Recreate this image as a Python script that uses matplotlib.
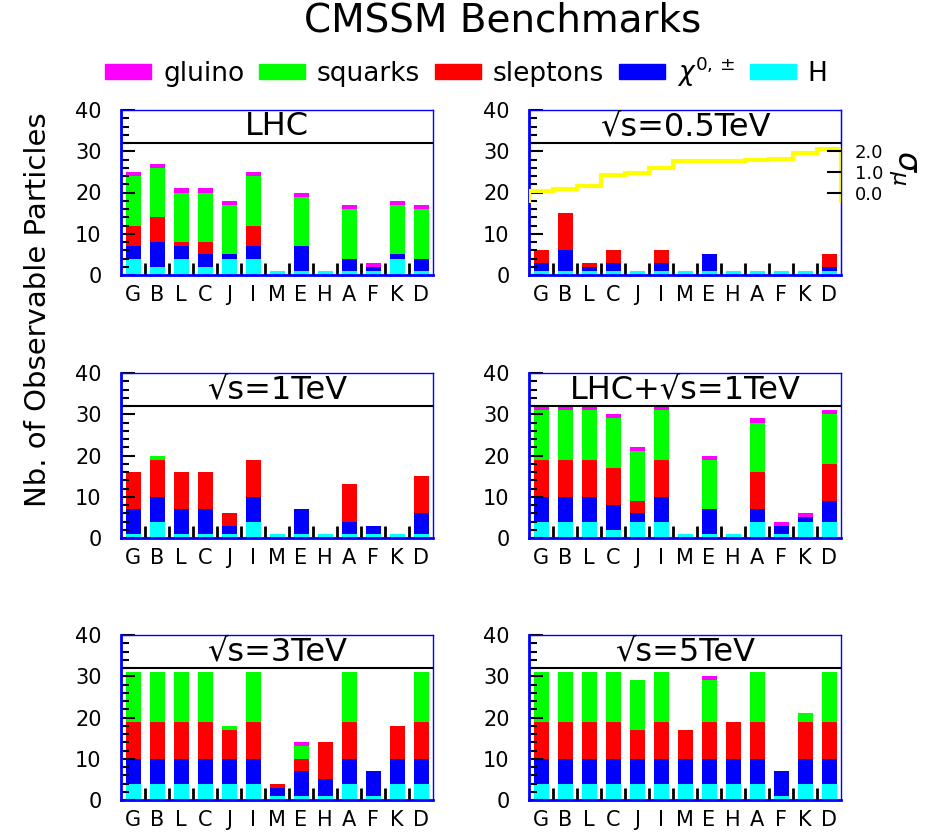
import matplotlib
matplotlib.use("Agg")
import matplotlib.pyplot as plt
import numpy as np
from matplotlib.patches import Patch

plt.rcParams["font.family"] = ["DejaVu Sans"]

cats = ["G", "B", "L", "C", "J", "I", "M", "E", "H", "A", "F", "K", "D"]
layer_names = ["gluino", "squarks", "sleptons", r"$\chi^{0,\pm}$", "H"]
# drawing order bottom -> top: H, chi, sleptons, squarks, gluino
layer_colors = ["#00ffff", "#0000ff", "#ff0000", "#00ff00", "#ff00ff"]

# LHC
lhc_h    = [4, 2, 4, 2, 4, 4, 1, 1, 1, 1, 1, 4, 1]
lhc_chi  = [3, 6, 3, 3, 1, 3, 0, 6, 0, 3, 1, 1, 3]
lhc_slep = [5, 6, 1, 3, 0, 5, 0, 0, 0, 0, 0, 0, 0]
lhc_sq   = [12, 12, 12, 12, 12, 12, 0, 12, 0, 12, 0, 12, 12]
lhc_gl   = [1, 1, 1, 1, 1, 1, 0, 1, 0, 1, 1, 1, 1]

# sqrt(s) = 0.5 TeV
e05_h    = [1, 1, 1, 1, 1, 1, 1, 1, 1, 1, 1, 1, 1]
e05_chi  = [2, 5, 1, 2, 0, 2, 0, 4, 0, 0, 0, 0, 1]
e05_slep = [3, 9, 1, 3, 0, 3, 0, 0, 0, 0, 0, 0, 3]
e05_sq   = [0] * 13
e05_gl   = [0] * 13
# g-2 deviation (right axis)
e05_sigma = [0.08, 0.16, 0.32, 0.84, 0.96, 1.2, 1.52, 1.54, 1.54, 1.58, 1.64, 1.9, 2.1]

# sqrt(s) = 1 TeV
e1_h    = [1, 4, 1, 1, 1, 4, 1, 1, 1, 1, 1, 1, 1]
e1_chi  = [6, 6, 6, 6, 2, 6, 0, 6, 0, 3, 2, 0, 5]
e1_slep = [9, 9, 9, 9, 3, 9, 0, 0, 0, 9, 0, 0, 9]
e1_sq   = [0, 1, 0, 0, 0, 0, 0, 0, 0, 0, 0, 0, 0]
e1_gl   = [0] * 13

# LHC + sqrt(s) = 1 TeV
comb_h    = [4, 4, 4, 2, 4, 4, 1, 1, 1, 4, 1, 4, 4]
comb_chi  = [6, 6, 6, 6, 2, 6, 0, 6, 0, 3, 2, 1, 5]
comb_slep = [9, 9, 9, 9, 3, 9, 0, 0, 0, 9, 0, 0, 9]
comb_sq   = [12, 12, 12, 12, 12, 12, 0, 12, 0, 12, 0, 0, 12]
comb_gl   = [1, 1, 1, 1, 1, 1, 0, 1, 0, 1, 1, 1, 1]

# sqrt(s) = 3 TeV
e3_h    = [4, 4, 4, 4, 4, 4, 1, 1, 1, 4, 1, 4, 4]
e3_chi  = [6, 6, 6, 6, 6, 6, 2, 6, 4, 6, 6, 6, 6]
e3_slep = [9, 9, 9, 9, 7, 9, 1, 3, 9, 9, 0, 8, 9]
e3_sq   = [12, 12, 12, 12, 1, 12, 0, 3, 0, 12, 0, 0, 12]
e3_gl   = [0, 0, 0, 0, 0, 0, 0, 1, 0, 0, 0, 0, 0]

# sqrt(s) = 5 TeV
e5_h    = [4, 4, 4, 4, 4, 4, 4, 4, 4, 4, 1, 4, 4]
e5_chi  = [6, 6, 6, 6, 6, 6, 6, 6, 6, 6, 6, 6, 6]
e5_slep = [9, 9, 9, 9, 7, 9, 7, 9, 9, 9, 0, 9, 9]
e5_sq   = [12, 12, 12, 12, 12, 12, 0, 10, 0, 12, 0, 2, 12]
e5_gl   = [0, 0, 0, 0, 0, 0, 0, 1, 0, 0, 0, 0, 0]

panels = [
    ("LHC", [lhc_h, lhc_chi, lhc_slep, lhc_sq, lhc_gl]),
    ("√s=0.5TeV", [e05_h, e05_chi, e05_slep, e05_sq, e05_gl]),
    ("√s=1TeV", [e1_h, e1_chi, e1_slep, e1_sq, e1_gl]),
    ("LHC+√s=1TeV", [comb_h, comb_chi, comb_slep, comb_sq, comb_gl]),
    ("√s=3TeV", [e3_h, e3_chi, e3_slep, e3_sq, e3_gl]),
    ("√s=5TeV", [e5_h, e5_chi, e5_slep, e5_sq, e5_gl]),
]

fig = plt.figure(figsize=(9.29, 8.32), dpi=100)

lefts = [121 / 929, 529 / 929]
bottoms = [1 - 275 / 832, 1 - 538 / 832, 1 - 800 / 832]
w, h = 312 / 929, 165 / 832
frame_blue = "#0000ff"

nbin = len(cats)
x = np.arange(nbin)

for k, (title, layers) in enumerate(panels):
    ax = fig.add_axes([lefts[k % 2], bottoms[k // 2], w, h])
    bottom = np.zeros(nbin)
    for vals, col in zip(layers, layer_colors):
        vals = np.array(vals, dtype=float)
        ax.bar(x + 0.22, vals, 0.61, bottom=bottom, align="edge",
               color=col, linewidth=0)
        bottom += vals

    ax.set_xlim(0, nbin)
    ax.set_ylim(0, 40)
    ax.axhline(32, color="black", lw=1.5)
    ax.text(nbin / 2, 36, title, ha="center", va="center", fontsize=23)
    ax.vlines(np.arange(1, nbin), 0, 3, color="black", lw=2)

    ax.set_xticks(x + 0.5)
    ax.set_xticklabels(cats)
    ax.tick_params(axis="x", length=0, labelsize=15, pad=7)
    ax.set_yticks([0, 10, 20, 30, 40])
    ax.set_yticks(np.arange(0, 41, 2), minor=True)
    ax.tick_params(axis="y", which="major", direction="in", length=10,
                   width=1.5, labelsize=15, pad=14)
    ax.tick_params(axis="y", which="minor", direction="in", length=6, width=1.5)

    for side, lw in [("left", 2), ("bottom", 2), ("top", 1), ("right", 1)]:
        ax.spines[side].set_color(frame_blue)
        ax.spines[side].set_linewidth(lw)

    if k == 1:
        ax2 = ax.twinx()
        ax2.set_ylim(-4, 4)
        ax2.stairs(e05_sigma, np.arange(nbin + 1), baseline=-0.5,
                   color="#ffff00", lw=3)
        ax2.set_yticks([0, 1, 2])
        ax2.set_yticklabels(["0.0", "1.0", "2.0"])
        ax2.tick_params(axis="y", direction="in", length=10, width=1.5,
                        labelsize=13, pad=10)
        for side in ["left", "top", "bottom"]:
            ax2.spines[side].set_visible(False)
        ax2.spines["right"].set_color(frame_blue)

fig.text(903 / 929, 1 - 168 / 832, r"$\sigma_\mu$", rotation=-90,
         ha="center", va="center", fontsize=23)

fig.text(503 / 929, 1 - 20 / 832, "CMSSM Benchmarks", ha="center",
         va="center", fontsize=28)
fig.text(38 / 929, 1 - 310 / 832, "Nb. of Observable Particles",
         rotation=90, ha="center", va="center", fontsize=21)

handles = [Patch(color=c) for c in layer_colors[::-1]]
fig.legend(handles, layer_names, loc="center", bbox_to_anchor=(0.502, 1 - 72 / 832),
           ncol=5, frameon=False, fontsize=19, handlelength=1.75,
           handleheight=0.5, handletextpad=0.45, columnspacing=0.55)

fig.savefig("out.png", dpi=100)
